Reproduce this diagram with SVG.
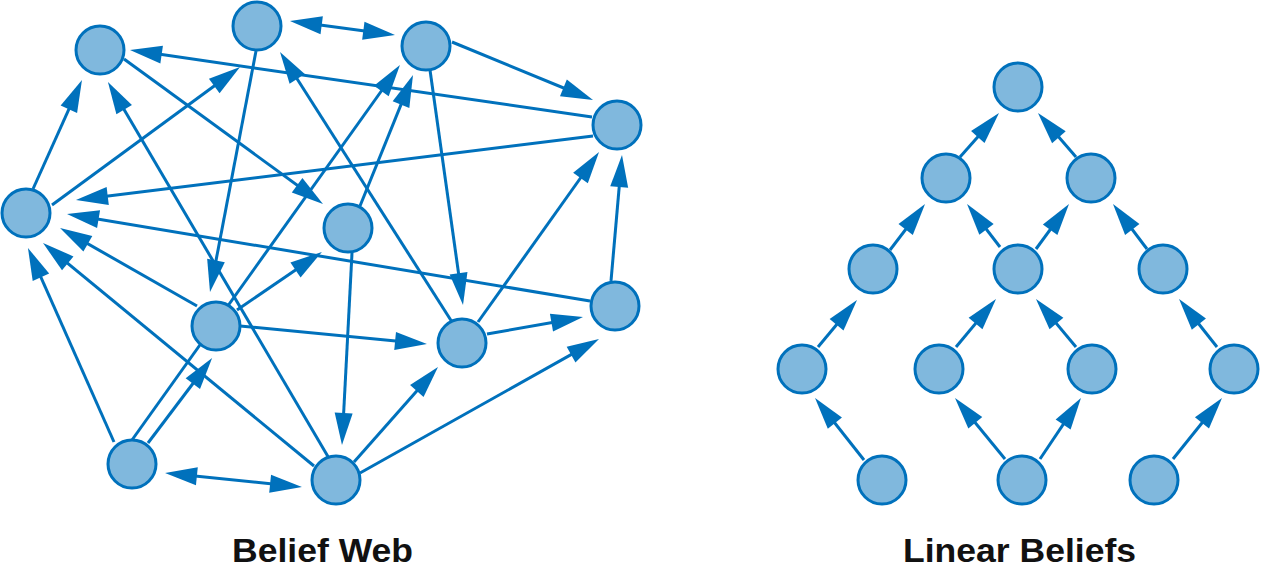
<svg xmlns="http://www.w3.org/2000/svg" width="1261" height="575" viewBox="0 0 1261 575">
<style>
.n{fill:#80b8dd;stroke:#0071bc;stroke-width:3}
.e{stroke:#0071bc;stroke-width:3;fill:none;marker-end:url(#ah)}
.d{marker-start:url(#ahs)}
.t{font-family:"Liberation Sans",Arial,sans-serif;font-weight:bold;font-size:34px;fill:#111;text-anchor:middle}
</style>
<defs>
<marker id="ah" markerUnits="userSpaceOnUse" markerWidth="34" markerHeight="19" refX="24" refY="9" orient="auto" overflow="visible"><path d="M0,0 L32,9 L0,18 Z" fill="#0071bc"/></marker>
<marker id="ahs" markerUnits="userSpaceOnUse" markerWidth="34" markerHeight="19" refX="24" refY="9" orient="auto-start-reverse" overflow="visible"><path d="M0,0 L32,9 L0,18 Z" fill="#0071bc"/></marker>
</defs>
<g id="connectors">
<line class="e d" x1="297.9" y1="22.1" x2="387.1" y2="33.9"/>
<line class="e" x1="452" y1="42" x2="585.6" y2="97.0"/>
<line class="e" x1="592" y1="117" x2="137.9" y2="51.1"/>
<line class="e" x1="593" y1="136" x2="83.9" y2="199.0"/>
<line class="e" x1="33" y1="189" x2="78.7" y2="87.3"/>
<line class="e" x1="52" y1="205" x2="233.6" y2="71.7"/>
<line class="e" x1="124" y1="59" x2="316.5" y2="199.3"/>
<line class="e" x1="256" y1="51" x2="211.5" y2="284.1"/>
<line class="e" x1="330" y1="460" x2="112.0" y2="88.9"/>
<line class="e" x1="132" y1="440" x2="395.3" y2="71.5"/>
<line class="e" x1="360" y1="206" x2="410.0" y2="82.4"/>
<line class="e" x1="452" y1="322" x2="284.3" y2="58.7"/>
<line class="e" x1="430" y1="70" x2="461.9" y2="297.1"/>
<line class="e" x1="478" y1="322" x2="594.4" y2="158.5"/>
<line class="e" x1="611" y1="281" x2="621.3" y2="163.0"/>
<line class="e" x1="590" y1="301" x2="74.9" y2="215.3"/>
<line class="e" x1="197" y1="306" x2="67.0" y2="231.9"/>
<line class="e" x1="314" y1="466" x2="49.2" y2="248.1"/>
<line class="e" x1="114" y1="442" x2="31.2" y2="255.3"/>
<line class="e" x1="148" y1="443" x2="207.3" y2="364.5"/>
<line class="e d" x1="173.0" y1="473.8" x2="294.0" y2="486.2"/>
<line class="e" x1="352" y1="253" x2="342.4" y2="437.0"/>
<line class="e" x1="354" y1="462" x2="432.7" y2="373.0"/>
<line class="e" x1="360" y1="473" x2="592.0" y2="342.9"/>
<line class="e" x1="487" y1="334" x2="575.1" y2="318.4"/>
<line class="e" x1="240" y1="326" x2="419.0" y2="343.3"/>
<line class="e" x1="237" y1="310" x2="315.3" y2="256.4"/>
<line class="e" x1="960" y1="157" x2="993.7" y2="119.0"/>
<line class="e" x1="1076" y1="157" x2="1043.2" y2="119.1"/>
<line class="e" x1="890" y1="250" x2="920.2" y2="210.4"/>
<line class="e" x1="1000" y1="247" x2="971.9" y2="210.3"/>
<line class="e" x1="1036" y1="249" x2="1064.3" y2="210.4"/>
<line class="e" x1="1147" y1="249" x2="1117.8" y2="210.4"/>
<line class="e" x1="818" y1="347" x2="851.9" y2="306.2"/>
<line class="e" x1="956" y1="347" x2="990.9" y2="305.1"/>
<line class="e" x1="1076" y1="347" x2="1041.1" y2="305.1"/>
<line class="e" x1="1217" y1="347" x2="1184.0" y2="305.3"/>
<line class="e" x1="864" y1="460" x2="820.0" y2="404.3"/>
<line class="e" x1="1005" y1="459" x2="960.1" y2="404.2"/>
<line class="e" x1="1040" y1="459" x2="1076.5" y2="404.6"/>
<line class="e" x1="1173" y1="459" x2="1217.0" y2="404.2"/>
</g>
<g id="web-A"><circle class="n" cx="100" cy="50" r="24"/></g>
<g id="web-B"><circle class="n" cx="257" cy="26" r="24"/></g>
<g id="web-C"><circle class="n" cx="426" cy="46" r="24"/></g>
<g id="web-D"><circle class="n" cx="617" cy="125" r="24"/></g>
<g id="web-E"><circle class="n" cx="26" cy="213" r="24"/></g>
<g id="web-F"><circle class="n" cx="348" cy="228" r="24"/></g>
<g id="web-G"><circle class="n" cx="216" cy="326" r="24"/></g>
<g id="web-H"><circle class="n" cx="615" cy="306" r="24"/></g>
<g id="web-I"><circle class="n" cx="462" cy="343" r="24"/></g>
<g id="web-J"><circle class="n" cx="132" cy="464" r="24"/></g>
<g id="web-K"><circle class="n" cx="336" cy="480" r="24"/></g>
<g id="lin-0"><circle class="n" cx="1018" cy="87" r="24"/></g>
<g id="lin-1a"><circle class="n" cx="946" cy="178" r="24"/></g>
<g id="lin-1b"><circle class="n" cx="1091" cy="178" r="24"/></g>
<g id="lin-2a"><circle class="n" cx="873" cy="269" r="24"/></g>
<g id="lin-2b"><circle class="n" cx="1018" cy="269" r="24"/></g>
<g id="lin-2c"><circle class="n" cx="1163" cy="269" r="24"/></g>
<g id="lin-3a"><circle class="n" cx="802" cy="369" r="24"/></g>
<g id="lin-3b"><circle class="n" cx="939" cy="369" r="24"/></g>
<g id="lin-3c"><circle class="n" cx="1092" cy="369" r="24"/></g>
<g id="lin-3d"><circle class="n" cx="1234" cy="369" r="24"/></g>
<g id="lin-4a"><circle class="n" cx="882" cy="480" r="24"/></g>
<g id="lin-4b"><circle class="n" cx="1022" cy="480" r="24"/></g>
<g id="lin-4c"><circle class="n" cx="1154" cy="480" r="24"/></g>
<g id="labels">
<text class="t" x="322.5" y="562" textLength="181" lengthAdjust="spacingAndGlyphs">Belief Web</text>
<text class="t" x="1019.5" y="562" textLength="233" lengthAdjust="spacingAndGlyphs">Linear Beliefs</text>
</g>
</svg>
